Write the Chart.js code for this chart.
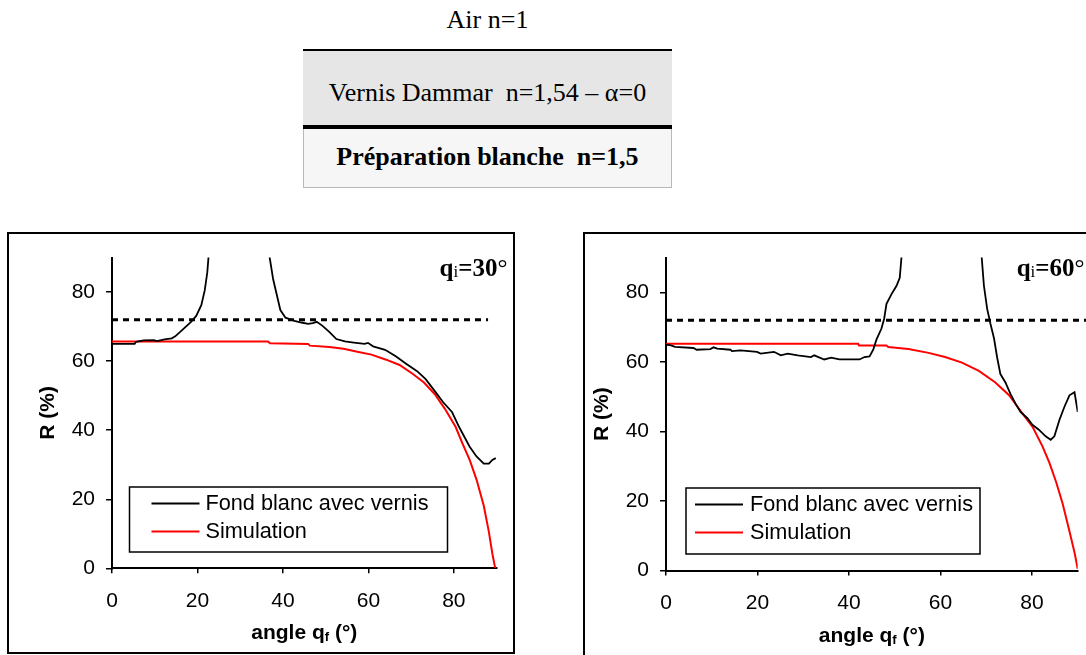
<!DOCTYPE html>
<html>
<head>
<meta charset="utf-8">
<script src="https://cdn.jsdelivr.net/npm/chart.js@4.4.1/dist/chart.umd.min.js"></script>
<style>
  html, body { margin: 0; padding: 0; background: #fff; width: 1086px; height: 655px; overflow: hidden; }
  .layer { position: absolute; left: 303px; width: 369px; text-align: center; color: #000;
           font-family: "Liberation Serif", "Times New Roman", serif; font-size: 26px; line-height: 26px; }
  #air { top: 7px; }
  #vernis { top: 49px; height: 80px; box-sizing: border-box; background: #e6e6e6;
            border-top: 2px solid #000; border-bottom: 4px solid #000; }
  #vernis span { position: absolute; left: 0; right: 0; top: 29px; }
  #prep { top: 129px; height: 59px; box-sizing: border-box; background: #f6f6f6;
          border: 1px solid #b8b8b8; border-top: none; font-weight: bold; }
  #prep span { position: absolute; left: 0; right: 0; top: 15px; }
  .frame { position: absolute; border: 2px solid #000; }
  #frame30 { left: 7px; top: 232px; width: 504px; height: 418px; }
  #frame60 { left: 583px; top: 232px; width: 509px; height: 422px; }
  canvas { display: block; }
</style>
</head>
<body>
<div id="air" class="layer">Air n=1</div>
<div id="vernis" class="layer"><span>Vernis Dammar&nbsp; n=1,54 – α=0</span></div>
<div id="prep" class="layer"><span>Préparation blanche&nbsp; n=1,5</span></div>

<div id="frame30" class="frame"><canvas id="c30" width="504" height="418"></canvas></div>
<div id="frame60" class="frame"><canvas id="c60" width="509" height="422"></canvas></div>

<script>
// values (angle in degrees, R in %)
const seriesLabels = ['Fond blanc avec vernis', 'Simulation'];
const tickValues = [0, 20, 40, 60, 80];
const axisMax = 90;
const refR = 72;                 // dotted level
const refTheta30 = [0, 88];
const refTheta60 = [0, 95];

// qi = 30°
const theta30Fond = [0, 5.3, 5.6, 7.4, 9.8, 10.5, 12.3, 14.0, 14.8, 16.4, 18.5, 19.7, 20.9, 21.7, 22.3, 22.7,
  30, 36.7, 36.9, 37.7, 38.6, 39.4, 40.6, 42.7, 44.3, 45.9, 47.0, 47.9, 49.2, 50.9, 52.5, 54.5, 56.6, 59.1,
  59.9, 61.1, 63.9, 66.4, 68.9, 71.4, 73.4, 75.5, 77.5, 79.6, 81.2, 83.7, 85.3, 87.0, 88.2, 89.0, 89.8];
const r30Fond = [65.0, 65.0, 65.6, 66.0, 66.1, 65.8, 66.3, 66.6, 67.2, 69.0, 71.4, 73.1, 76.2, 80.5, 85.7, 92,
  null, 92, 90, 83.8, 79.0, 74.8, 72.6, 71.7, 71.2, 70.8, 71.0, 71.4, 70.3, 68.4, 66.4, 65.7, 65.4, 65.0,
  65.3, 64.3, 63.3, 61.4, 59.2, 57.1, 54.8, 51.4, 48.1, 45.2, 41.0, 35.2, 32.4, 30.3, 30.3, 31.4, 31.9];
const theta30Sim = [0, 36.5, 37, 45.9, 46.3, 50.9, 54.2, 57.4, 60.7, 64.0, 67.3, 70.5, 73.0, 75.5, 77.9,
  80.4, 82.0, 83.7, 85.3, 87.0, 88.2, 89.0, 89.6, 89.8];
const r30Sim = [65.7, 65.7, 65.2, 65.0, 64.5, 64.1, 63.6, 62.7, 61.9, 60.5, 58.9, 56.2, 53.8, 50.5, 46.2,
  41.0, 36.2, 31.4, 25.7, 18.1, 10.5, 4.3, 0.5, 0];

// qi = 60°
const theta60Fond = [0, 0.9, 2.0, 6.0, 6.7, 9.7, 10.4, 11.2, 14.1, 14.4, 16.3, 19.9, 20.7, 23.6, 25.1, 26.6,
  28.8, 31.7, 32.4, 34.6, 36.1, 37.9, 42.3, 43.4, 44.5, 45.3, 46.0, 47.1, 47.7, 48.2, 49.3, 50.4, 51.1, 51.6,
  60, 68.9, 69.5, 70.2, 70.9, 71.7, 72.4, 73.1, 74.2, 75.3, 76.4, 77.5, 79.0, 80.1, 81.5, 83.0, 84.1, 84.9,
  86.0, 87.1, 88.2, 89.3, 89.6, 90.0];
const r60Fond = [64.9, 64.8, 64.3, 64.0, 63.5, 63.7, 64.2, 63.8, 63.5, 63.1, 63.3, 62.9, 62.4, 62.9, 61.9, 62.4,
  61.9, 61.4, 61.9, 60.7, 61.2, 60.7, 60.7, 61.4, 61.6, 63.5, 66.4, 69.6, 72.5, 76.7, 79.5, 81.9, 84.2, 92,
  null, 92, 81.9, 75.3, 71.1, 66.8, 61.2, 56.5, 54.1, 50.8, 48.0, 45.6, 43.8, 41.9, 40.5, 38.6, 37.6, 38.6,
  43.3, 47.1, 50.4, 51.3, 48.9, 45.6];
const theta60Sim = [0, 42, 42.2, 48.2, 48.6, 53, 57.4, 61.0, 64.7, 68.4, 72.0, 75.0, 77.9, 80.1, 82.3, 83.8,
  85.3, 86.7, 88.2, 89.3, 90.0];
const r60Sim = [65.2, 65.2, 64.7, 64.7, 64.3, 63.7, 62.6, 61.4, 59.8, 57.4, 54.1, 50.4, 45.2, 41.4, 35.7, 31.0,
  25.4, 19.3, 11.3, 5.2, 0.5];

const pts = (xs, ys) => xs.map((x, i) => ({ x: x, y: ys[i] }));
const SANS = '"Liberation Sans", Arial, sans-serif';
const SERIF = '"Liberation Serif", "Times New Roman", serif';

Chart.defaults.font.family = SANS;
Chart.defaults.font.size = 21;
Chart.defaults.color = '#000';

function drawParts(ctx, parts, x, y, align) {
  let w = 0;
  parts.forEach(p => { ctx.font = p.font; w += ctx.measureText(p.t).width; });
  let cx = align === 'center' ? x - w / 2 : x;
  ctx.textBaseline = 'alphabetic';
  ctx.textAlign = 'left';
  parts.forEach(p => {
    ctx.font = p.font;
    ctx.fillText(p.t, cx, y + (p.dy || 0));
    cx += ctx.measureText(p.t).width;
  });
}

// axis titles with subscripts, corner title and boxed legend
const decor = {
  id: 'decor',
  afterDraw(chart, args, o) {
    const ctx = chart.ctx, a = chart.chartArea;
    ctx.save();
    ctx.fillStyle = '#000';

    ctx.save();
    ctx.font = 'bold 21px ' + SANS;
    ctx.translate(a.left - 64, (a.top + a.bottom) / 2);
    ctx.rotate(-Math.PI / 2);
    ctx.textAlign = 'center';
    ctx.textBaseline = 'middle';
    ctx.fillText('R (%)', 0, 0);
    ctx.restore();

    drawParts(ctx, [
      { t: 'angle q', font: 'bold 21px ' + SANS },
      { t: 'f', font: 'bold 13px ' + SANS, dy: 2 },
      { t: ' (°)', font: 'bold 21px ' + SANS }
    ], (a.left + a.right) / 2, a.bottom + 71, 'center');

    drawParts(ctx, [
      { t: 'q', font: 'bold 25px ' + SERIF },
      { t: 'i', font: '17px ' + SERIF, dy: 1 },
      { t: '=' + o.angle, font: 'bold 25px ' + SERIF },
      { t: '°', font: '25px ' + SERIF }
    ], a.right - o.cornerDx, a.top + 18, 'left');

    const lg = o.legend;
    const bx = a.left + lg.dx, by = a.bottom - lg.dy - lg.h;
    ctx.strokeStyle = '#000';
    ctx.lineWidth = 1.5;
    ctx.strokeRect(bx, by, lg.w, lg.h);
    ctx.font = '21.7px ' + SANS;
    ctx.textAlign = 'left';
    ctx.textBaseline = 'middle';
    chart.data.datasets.filter(d => d.inLegend).forEach((d, i) => {
      const cy = by + 16.5 + i * 28;
      ctx.strokeStyle = d.borderColor;
      ctx.lineWidth = d.borderWidth;
      ctx.beginPath();
      ctx.moveTo(bx + lg.x0, cy);
      ctx.lineTo(bx + lg.x1, cy);
      ctx.stroke();
      ctx.fillText(d.label, bx + lg.tx, cy + 1);
    });
    ctx.restore();
  }
};

function makeChart(id, fond, sim, refTheta, lay, deco) {
  return new Chart(document.getElementById(id), {
    type: 'line',
    data: {
      datasets: [
        { label: seriesLabels[0], data: fond, inLegend: true, borderColor: '#000', borderWidth: 1.8 },
        { label: seriesLabels[1], data: sim, inLegend: true, borderColor: '#ff0000', borderWidth: 2 },
        { label: 'ref', data: pts(refTheta, refTheta.map(() => refR)), borderColor: '#000',
          borderWidth: 3, borderDash: [6, 5], clip: false }
      ]
    },
    options: {
      responsive: false,
      animation: false,
      events: [],
      elements: { point: { radius: 0 }, line: { tension: 0, fill: false } },
      layout: { padding: { left: 0, top: lay.top, right: lay.right, bottom: 0 } },
      scales: {
        x: {
          type: 'linear', min: 0, max: axisMax,
          afterBuildTicks: s => { s.ticks = tickValues.map(v => ({ value: v })); },
          afterFit: s => { s.height = lay.xh; },
          grid: { drawOnChartArea: false, color: '#000', lineWidth: 1.5, tickLength: 5 },
          border: { color: '#000', width: 2 },
          ticks: { padding: 15, maxRotation: 0, autoSkip: false }
        },
        y: {
          type: 'linear', min: 0, max: axisMax,
          afterBuildTicks: s => { s.ticks = tickValues.map(v => ({ value: v })); },
          afterFit: s => { s.width = lay.yw; },
          grid: { drawOnChartArea: false, color: '#000', lineWidth: 1.5, tickLength: 6 },
          border: { color: '#000', width: 2 },
          ticks: { padding: 11 }
        }
      },
      plugins: { legend: { display: false }, tooltip: { enabled: false }, decor: deco }
    },
    plugins: [decor]
  });
}

makeChart('c30', pts(theta30Fond, r30Fond), pts(theta30Sim, r30Sim), refTheta30,
  { top: 19.3, right: 16.4, xh: 83.7, yw: 103 },
  { angle: '30', cornerDx: 57,
    legend: { dx: 17.5, dy: 16.3, w: 318, h: 65, x0: 22, x1: 70, tx: 76 } });

makeChart('c60', pts(theta60Fond, r60Fond), pts(theta60Sim, r60Sim), refTheta60,
  { top: 19.8, right: 16.3, xh: 85.5, yw: 81 },
  { angle: '60', cornerDx: 61,
    legend: { dx: 20, dy: 16.5, w: 294, h: 66, x0: 9, x1: 57, tx: 64 } });
</script>
</body>
</html>
